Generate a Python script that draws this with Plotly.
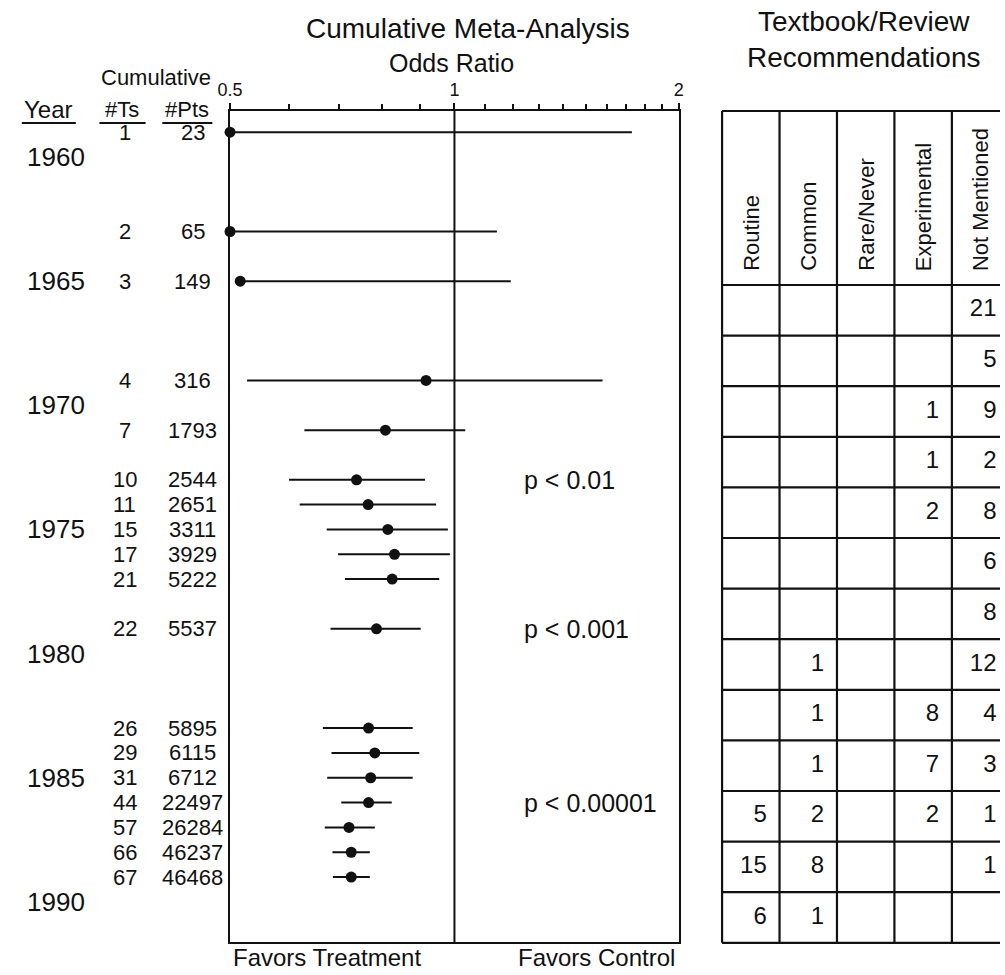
import math
import plotly.graph_objects as go

# ---------------- data ----------------
years = [1959, 1963, 1965, 1969, 1971, 1973, 1974, 1975, 1976, 1977, 1979,
         1983, 1984, 1985, 1986, 1987, 1988, 1989]
n_trials = [1, 2, 3, 4, 7, 10, 11, 15, 17, 21, 22, 26, 29, 31, 44, 57, 66, 67]
n_patients = [23, 65, 149, 316, 1793, 2544, 2651, 3311, 3929, 5222, 5537,
              5895, 6115, 6712, 22497, 26284, 46237, 46468]
odds_ratio = [0.50, 0.50, 0.516, 0.916, 0.808, 0.739, 0.766, 0.814, 0.831, 0.825,
              0.786, 0.767, 0.782, 0.772, 0.767, 0.722, 0.727, 0.727]
ci_low = [0.50, 0.50, 0.516, 0.527, 0.629, 0.600, 0.620, 0.674, 0.698, 0.713,
          0.682, 0.666, 0.684, 0.675, 0.705, 0.670, 0.686, 0.687]
ci_high = [1.73, 1.14, 1.19, 1.58, 1.034, 0.913, 0.945, 0.980, 0.986, 0.954,
           0.901, 0.879, 0.897, 0.879, 0.824, 0.782, 0.770, 0.770]

year_ticks = [1960, 1965, 1970, 1975, 1980, 1985, 1990]
p_labels = ["p < 0.01", "p < 0.001", "p < 0.00001"]
p_years = [1973, 1979, 1986]

or_tickvals = [0.5, 1, 2]
or_ticktext = ["0.5", "1", "2"]
or_minor = [0.6, 0.7, 0.8, 0.9, 1.1, 1.2, 1.3, 1.4, 1.5, 1.6, 1.7, 1.8, 1.9]

table_columns = ["Routine", "Common", "Rare/Never", "Experimental", "Not Mentioned"]
routine = [None, None, None, None, None, None, None, None, None, None, 5, 15, 6]
common = [None, None, None, None, None, None, None, 1, 1, 1, 2, 8, 1]
rare_never = [None] * 13
experimental = [None, None, 1, 1, 2, None, None, None, 8, 7, 2, None, None]
not_mentioned = [21, 5, 9, 2, 8, 6, 8, 12, 4, 3, 1, 1, None]

# ---------------- layout helpers ----------------
W, H = 1005, 975
FONT = "Liberation Sans, Arial, Helvetica, sans-serif"
INK = "#111111"


def px(x):
    return x / W


def py(y):
    return 1 - y / H


# forest plot frame (pixels)
F_L, F_R, F_T, F_B = 221, 678, 111, 942
YEAR_REF, YEAR_PX, PX_PER_YEAR = 1960, 157, 24.83
y_top = YEAR_REF + (F_T - YEAR_PX) / PX_PER_YEAR
y_bot = YEAR_REF + (F_B - YEAR_PX) / PX_PER_YEAR

# table geometry (pixels)
T_L, COL_W = 722, 58.5
T_TOP, T_HEAD, ROW_H = 111, 285, 50.6
n_rows = len(not_mentioned)
tab_dom_top, tab_dom_bot, tab_dom_left = 104, 950, 714
x2_range = [(tab_dom_left - T_L) / COL_W, (W - T_L) / COL_W]
y2_range = [(tab_dom_bot - T_HEAD) / ROW_H, (tab_dom_top - T_HEAD) / ROW_H]
head_top = (T_TOP - T_HEAD) / ROW_H

fig = go.Figure()

# CI lines
cx, cy = [], []
for lo, hi, yr in zip(ci_low, ci_high, years):
    cx += [lo, hi, None]
    cy += [yr, yr, None]
fig.add_trace(go.Scatter(x=cx, y=cy, mode="lines",
                         line=dict(color=INK, width=2),
                         hoverinfo="skip", showlegend=False, cliponaxis=False))
# line of no effect
fig.add_trace(go.Scatter(x=[1, 1], y=[y_top, y_bot], mode="lines",
                         line=dict(color=INK, width=2),
                         hoverinfo="skip", showlegend=False))
# point estimates
fig.add_trace(go.Scatter(x=odds_ratio, y=years, mode="markers",
                         marker=dict(color=INK, size=11),
                         showlegend=False, cliponaxis=False))

# table numbers
cols_data = [routine, common, rare_never, experimental, not_mentioned]
tx, ty, tt = [], [], []
for ci, col in enumerate(cols_data):
    for ri, v in enumerate(col):
        if v is not None:
            tx.append(ci + 1 - 13 / COL_W)
            ty.append(ri + 0.5)
            tt.append(str(v))
fig.add_trace(go.Scatter(x=tx, y=ty, text=tt, mode="text",
                         textposition="middle left",
                         textfont=dict(family=FONT, size=24, color=INK),
                         xaxis="x2", yaxis="y2", showlegend=False,
                         hoverinfo="skip", cliponaxis=False))

shapes = []
# table grid
for ci in range(len(table_columns) + 1):
    shapes.append(dict(type="line", xref="x2", yref="y2", x0=ci, x1=ci,
                       y0=head_top, y1=n_rows, line=dict(color=INK, width=2.2)))
for r in [head_top] + list(range(n_rows + 1)):
    shapes.append(dict(type="line", xref="x2", yref="y2", x0=0, x1=len(table_columns),
                       y0=r, y1=r, line=dict(color=INK, width=2.2)))

# underlines for left headers
for x0, x1 in [(9, 64), (88, 135), (152, 203)]:
    shapes.append(dict(type="line", xref="paper", yref="paper",
                       x0=px(x0), x1=px(x1), y0=py(123), y1=py(123),
                       line=dict(color=INK, width=2)))

annotations = []


def ann(text, x, y, size, xanchor="center", yanchor="middle", xref="paper", yref="paper", **kw):
    annotations.append(dict(text=text, x=x, y=y, xref=xref, yref=yref,
                            xanchor=xanchor, yanchor=yanchor, showarrow=False,
                            font=dict(family=FONT, size=size, color=INK), **kw))


ann("Cumulative Meta-Analysis", px(463), py(29), 28)
ann("Odds Ratio", px(447), py(63), 25)
ann("Textbook/Review<br>Recommendations", px(866), py(40), 28)
ann("Cumulative", px(146), py(78), 22)
ann("Year", px(36), py(109), 24)
ann("#Ts", px(111), py(109), 22)
ann("#Pts", px(177), py(109), 22)

for yr in year_ticks:
    ann(str(yr), px(44), yr, 26, yref="y")
for nt, npt, yr in zip(n_trials, n_patients, years):
    ann(str(nt), px(114), yr, 22, yref="y")
    ann(str(npt), px(183), yr, 22, yref="y")
for lab, yr in zip(p_labels, p_years):
    ann(lab, px(518), yr, 25, xanchor="left", yref="y")

ann("Favors Treatment", px(222), py(957), 24, xanchor="left")
ann("Favors Control", px(676), py(957), 24, xanchor="right")

for ci, name in enumerate(table_columns):
    ann(name, ci + 0.5, (273 - T_HEAD) / ROW_H, 22, xref="x2", yref="y2",
        yanchor="bottom", textangle=-90)

fig.update_layout(
    width=W, height=H, margin=dict(l=0, r=0, t=0, b=0),
    paper_bgcolor="white", plot_bgcolor="white",
    font=dict(family=FONT, color=INK),
    showlegend=False,
    xaxis=dict(type="log", range=[math.log10(0.5), math.log10(2)],
               domain=[px(F_L), px(F_R)], side="top",
               showline=True, mirror=True, linecolor=INK, linewidth=2,
               ticks="outside", ticklen=6, tickwidth=1.5, tickcolor=INK,
               tickmode="array", tickvals=or_tickvals, ticktext=or_ticktext,
               tickfont=dict(family=FONT, size=18, color=INK),
               minor=dict(tickmode="array", tickvals=or_minor, ticks="outside",
                          ticklen=5, tickwidth=1.5, tickcolor=INK, showgrid=False),
               showgrid=False, zeroline=False, fixedrange=True),
    yaxis=dict(range=[y_bot, y_top], domain=[py(F_B), py(F_T)],
               showline=True, mirror=True, linecolor=INK, linewidth=2,
               showticklabels=False, ticks="", showgrid=False, zeroline=False,
               fixedrange=True),
    xaxis2=dict(range=x2_range, domain=[px(tab_dom_left), 1], anchor="y2",
                visible=False, fixedrange=True),
    yaxis2=dict(range=y2_range, domain=[py(tab_dom_bot), py(tab_dom_top)], anchor="x2",
                visible=False, fixedrange=True),
    shapes=shapes, annotations=annotations,
)

fig.write_html("out.html", config={"displayModeBar": False},
               post_script="document.body.style.margin='0';"
                           "document.body.style.overflow='hidden';")
